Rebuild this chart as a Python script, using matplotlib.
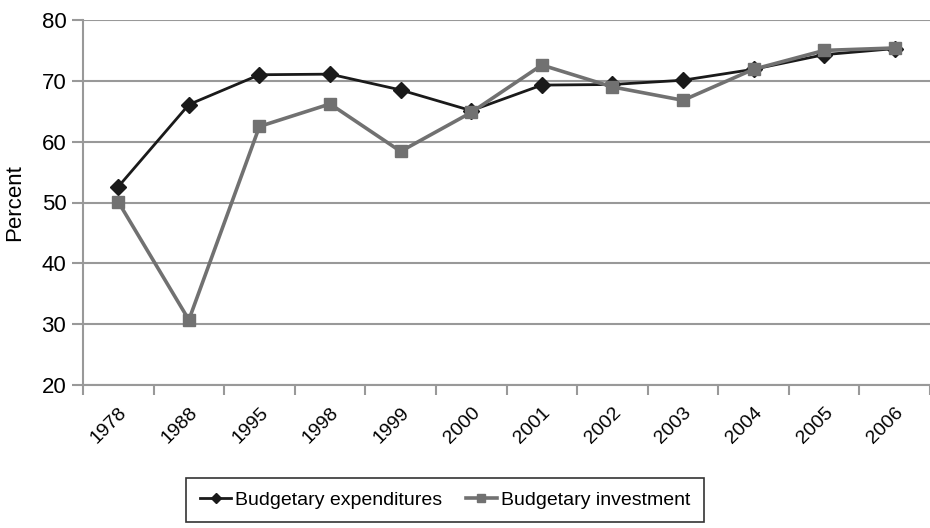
import numpy as np
import matplotlib
matplotlib.use("Agg")
import matplotlib.pyplot as plt
import matplotlib.transforms as mtransforms

plt.rcParams["font.family"] = ["Liberation Sans", "DejaVu Sans"]

years = ["1978", "1988", "1995", "1998", "1999", "2000",
         "2001", "2002", "2003", "2004", "2005", "2006"]
expenditures = [52.6, 66.1, 71.0, 71.1, 68.5, 65.1, 69.3, 69.4, 70.1, 71.9, 74.3, 75.3]
investment = [50.1, 30.7, 62.5, 66.2, 58.4, 64.8, 72.6, 69.0, 66.8, 71.9, 75.0, 75.4]

fig = plt.figure(figsize=(9.3, 5.28), dpi=100)
ax = fig.add_axes([83 / 930, 1 - 385 / 528, 847 / 930, 365 / 528])

x = np.arange(len(years))
ax.plot(x, expenditures, color="#1a1a1a", lw=2, marker="D", ms=8,
        label="Budgetary expenditures", zorder=3)
ax.plot(x, investment, color="#717171", lw=2.6, marker="s", ms=9,
        label="Budgetary investment", zorder=4)

ax.set_xlim(-0.5, len(years) - 0.5)
ax.set_ylim(20, 80)
ax.set_yticks(range(20, 81, 10))
ax.yaxis.grid(True, color="#999999", lw=1.5)
ax.set_axisbelow(True)

ax.set_xticks(x)
ax.set_xticklabels(years, rotation=45, ha="right", rotation_mode="anchor", fontsize=14)
# nudge the rotated labels a little to the right, like the original
shift = mtransforms.ScaledTranslation(7 / 100, 0, fig.dpi_scale_trans)
for lab in ax.get_xticklabels():
    lab.set_transform(lab.get_transform() + shift)
ax.set_xticks(np.arange(-0.5, len(years), 1), minor=True)
ax.tick_params(axis="x", which="major", length=0, pad=14)
ax.tick_params(axis="x", which="minor", length=7, color="#999999", width=1.5)
ax.tick_params(axis="y", length=8, color="#999999", width=1.5, labelsize=16, pad=4)

for side in ["top", "right"]:
    ax.spines[side].set_visible(False)
for side in ["left", "bottom"]:
    ax.spines[side].set_color("#999999")
    ax.spines[side].set_linewidth(1.5)

ax.set_ylabel("Percent", fontsize=16)
ax.yaxis.set_label_coords((25 - 83) / 847, 0.5)

leg = fig.legend(loc="center", bbox_to_anchor=(445 / 930, 1 - 500 / 528), ncol=2,
                 fontsize=14, frameon=True, fancybox=False, edgecolor="black",
                 handlelength=1.6, handletextpad=0.2, columnspacing=1.2,
                 borderpad=0.7, markerscale=0.7)
leg.get_frame().set_linewidth(1.2)

fig.savefig("out.png", dpi=100)
